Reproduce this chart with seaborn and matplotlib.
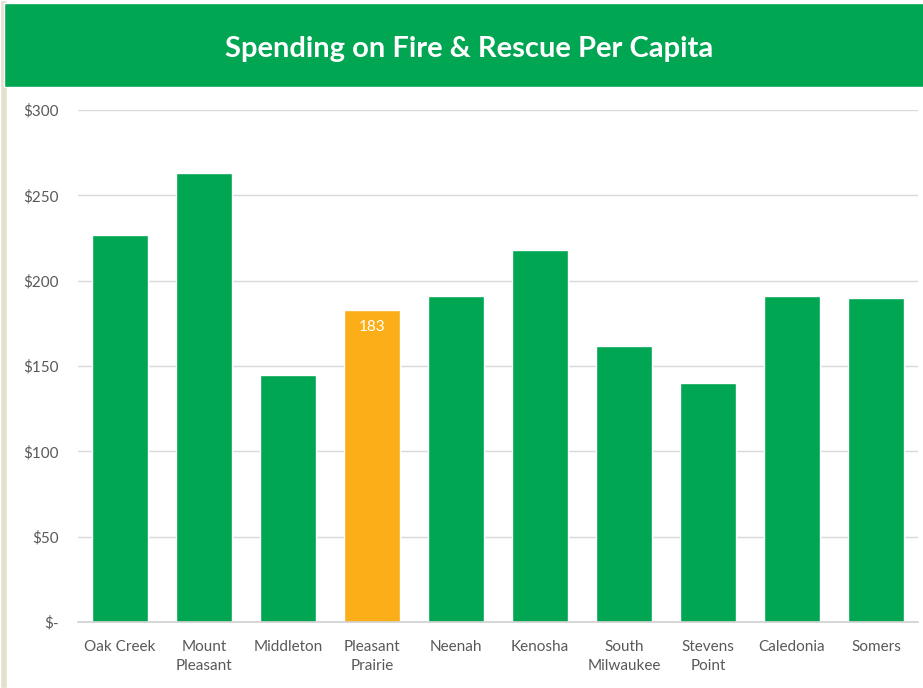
import matplotlib
matplotlib.use("Agg")
import matplotlib.pyplot as plt
import matplotlib.patches as mpatches
import numpy as np
import pandas as pd
import seaborn as sns

towns = ['Oak Creek', 'Mount\nPleasant', 'Middleton', 'Pleasant\nPrairie', 'Neenah',
         'Kenosha', 'South\nMilwaukee', 'Stevens\nPoint', 'Caledonia', 'Somers']
spending = [227, 263, 145, 183, 191, 218, 162, 140, 191, 190]
highlight = 'Pleasant\nPrairie'
y_ticks = [0, 50, 100, 150, 200, 250, 300]
y_labels = ['$-', '$50', '$100', '$150', '$200', '$250', '$300']

green = '#00A651'
orange = '#FBAE17'

df = pd.DataFrame({'town': towns, 'spending': spending})
df['group'] = np.where(df['town'] == highlight, 'hi', 'lo')

sns.set_style('white')
plt.rcParams['font.family'] = ['Lato', 'DejaVu Sans']

fig = plt.figure(figsize=(9.23, 6.88), dpi=100)
# beige page edge and white panel
fig.patches.append(mpatches.Rectangle((0, 0), 1, 1, transform=fig.transFigure,
                                      facecolor='#E6DFD0', zorder=-3))
fig.patches.append(mpatches.Rectangle((7 / 923, 0), 1, 1, transform=fig.transFigure,
                                      facecolor='white', zorder=-2))
# green title bar
fig.patches.append(mpatches.Rectangle((4 / 923, 1 - 87 / 688), 1, 84 / 688,
                                      transform=fig.transFigure,
                                      facecolor=green, zorder=-1))
fig.text(0.508, 1 - 49 / 688, 'Spending on Fire & Rescue Per Capita', color='white',
         fontsize=21, fontweight='bold', ha='center', va='center')

ax = fig.add_axes([78 / 923, 66 / 688, 840 / 923, 512 / 688])
ax.set_facecolor('none')
sns.barplot(data=df, x='town', y='spending', hue='group',
            palette={'hi': orange, 'lo': green}, dodge=False, width=0.655,
            legend=False, ax=ax, saturation=1)

ax.set_xlim(-0.5, len(towns) - 0.5)
ax.set_ylim(0, 300)
ax.set_yticks(y_ticks)
ax.set_yticklabels(y_labels)
ax.set_xlabel('')
ax.set_ylabel('')
ax.yaxis.grid(True, color='#D9D9D9', linewidth=1)
ax.set_axisbelow(True)
for s in ['top', 'right', 'left']:
    ax.spines[s].set_visible(False)
ax.spines['bottom'].set_color('#D0D0D0')
ax.spines['bottom'].set_linewidth(1.2)
ax.tick_params(axis='both', length=0, colors='#595959', labelsize=11)
ax.tick_params(axis='y', pad=14)
ax.tick_params(axis='x', pad=13)
for lbl in ax.get_xticklabels():
    lbl.set_linespacing(1.45)

i = towns.index(highlight)
ax.text(i, spending[i] - 10, str(spending[i]), color='white', fontsize=11,
        ha='center', va='center')

fig.savefig('out.png', dpi=100)
